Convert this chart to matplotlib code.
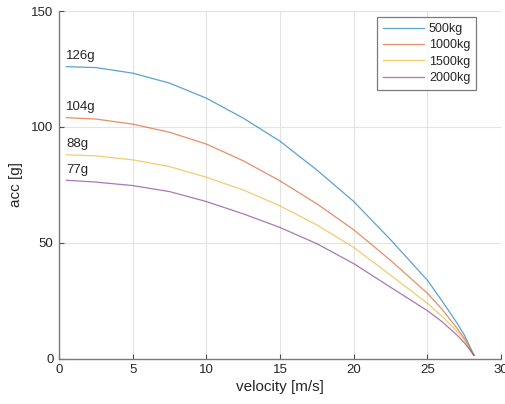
import matplotlib
matplotlib.use("Agg")
import matplotlib.pyplot as plt

# Peak acceleration versus impact velocity for four vehicle masses
velocity = [0.5, 2.5, 5, 7.5, 10, 12.5, 15, 17.5, 20, 22.5, 25, 26, 27, 27.5, 28.15]
acc_500 = [126, 125.6, 123.2, 118.9, 112.4, 103.8, 93.8, 81.4, 67.8, 51.3, 33.8, 24.8, 15.4, 10.2, 1.5]
acc_1000 = [104, 103.4, 101.2, 97.7, 92.6, 85.4, 76.7, 66.8, 55.6, 42.4, 28.2, 21.2, 13.2, 8.8, 1.5]
acc_1500 = [88, 87.5, 85.8, 82.9, 78.3, 72.8, 65.9, 57.7, 48.0, 36.0, 23.9, 18.2, 11.8, 8.1, 1.5]
acc_2000 = [77, 76.2, 74.7, 72.1, 67.8, 62.5, 56.6, 49.6, 41.0, 30.8, 20.7, 15.9, 10.2, 6.9, 1.5]

series_labels = ["500kg", "1000kg", "1500kg", "2000kg"]
peak_labels = ["126g", "104g", "88g", "77g"]
x_ticks = [0, 5, 10, 15, 20, 25, 30]
y_ticks = [0, 50, 100, 150]

colors = ["#0072bd", "#d95319", "#edb120", "#7e2f8e"]

plt.rcParams["font.family"] = ["Liberation Sans", "DejaVu Sans"]

fig = plt.figure(figsize=(5.06, 4.04), dpi=100)
ax = fig.add_axes([0.1166, 0.1121, 0.8739, 0.8606])

series = [acc_500, acc_1000, acc_1500, acc_2000]
for acc, col, lab, peak in zip(series, colors, series_labels, peak_labels):
    ax.plot(velocity, acc, color=col, lw=0.9, alpha=0.65, label=lab,
            solid_joinstyle="round")
    ax.text(velocity[0], acc[0] + 2.0, peak, fontsize=9.5, color="#262626",
            ha="left", va="bottom")

ax.set_xlim(0, 30)
ax.set_ylim(0, 150)
ax.set_xticks(x_ticks)
ax.set_yticks(y_ticks)
ax.grid(True, color="#e3e3e3", lw=0.8)
ax.set_axisbelow(True)

for side in ("top", "right"):
    ax.spines[side].set_visible(False)
for side in ("left", "bottom"):
    ax.spines[side].set_color("#7a7a7a")
    ax.spines[side].set_linewidth(1.0)

ax.tick_params(direction="in", length=3.5, width=0.8, color="#4d4d4d",
               labelsize=9.5, labelcolor="#262626", pad=4)

ax.set_xlabel("velocity [m/s]", fontsize=11, color="#262626", labelpad=3)
ax.set_ylabel("acc [g]", fontsize=11, color="#262626", labelpad=6)

leg = ax.legend(loc="upper right", bbox_to_anchor=(0.943, 0.982), fontsize=9,
                frameon=True, fancybox=False, handlelength=3.3, handletextpad=0.4,
                labelspacing=0.35, borderpad=0.45, borderaxespad=0)
leg.get_frame().set_edgecolor("#5a5a5a")
leg.get_frame().set_linewidth(0.9)
for t in leg.get_texts():
    t.set_color("#262626")

fig.savefig("out.png", dpi=100, facecolor="white")
